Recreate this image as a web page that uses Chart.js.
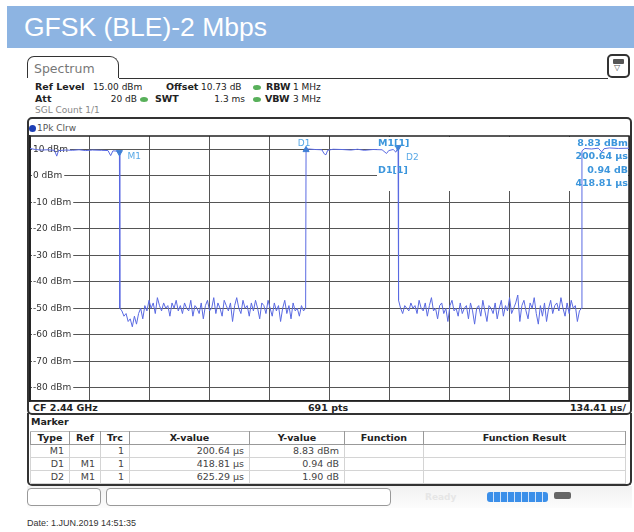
<!DOCTYPE html>
<html>
<head>
<meta charset="utf-8">
<script src="https://cdn.jsdelivr.net/npm/chart.js@4/dist/chart.umd.min.js"></script>
<style>
  body { margin: 0; width: 634px; height: 532px; overflow: hidden; position: relative; background: #fff;
         font-family: "DejaVu Sans", sans-serif; font-size: 9px; color: #222; }
  .a { position: absolute; white-space: nowrap; line-height: 12px; }
  .b { font-weight: bold; font-size: 9.5px; }
  .dot { position: absolute; width: 8px; height: 5px; border-radius: 50%; background: #58b05a; }
  #title { position: absolute; left: 7px; top: 6px; width: 627px; height: 42px; background: #8db4e2;
           color: #fff; font: 26.5px "Liberation Sans", Arial, sans-serif; line-height: 42px; padding-left: 17px; box-sizing: border-box; }
  #tab { position: absolute; left: 27px; top: 56px; width: 92px; height: 22px; border: 1.5px solid #333; border-bottom: none;
         border-radius: 7px 9px 0 0; color: #777; font-size: 12.5px; line-height: 24px; padding-left: 6px; box-sizing: border-box; }
  #tabline { position: absolute; left: 119px; top: 78px; width: 489px; border-top: 1.5px solid #333; }
  #icon { position: absolute; left: 607px; top: 54px; width: 23px; height: 24px; border: 2px solid #333; border-radius: 5px; box-sizing: border-box; }
  #panel { position: absolute; left: 27px; top: 117px; width: 605px; height: 298px; border: 2px solid #333; border-radius: 5px; box-sizing: border-box; }
  #mpanel { position: absolute; left: 27px; top: 413px; width: 605px; height: 73px; border: 2px solid #333; border-top: none;
            border-radius: 0 0 5px 5px; box-sizing: border-box; }
  table { position: absolute; left: 30px; top: 431px; border-collapse: collapse; font-size: 9.5px; table-layout: fixed; }
  td, th { height: 12px; padding: 0 5px 0 0; line-height: 12px; border: 1px solid #d4d4d4; text-align: right; color: #444; font-weight: normal; }
  th { font-weight: bold; text-align: center; border-color: #999; border-top-color: #bbb; color: #222; padding: 0; }
  #bar { position: absolute; left: 487px; top: 492px; width: 61px; height: 10px; border-radius: 3px;
         background: repeating-linear-gradient(to right, #3b8fe9 0 6px, #cfe3fb 6px 7px); }
  #c { position: absolute; left: 0; top: 0; }
</style>
</head>
<body>
<div id="title">GFSK (BLE)-2 Mbps</div>
<div id="tab">Spectrum</div>
<div id="tabline"></div>
<div id="icon"><div style="position:absolute;left:4px;top:3px;width:11px;height:5px;background:#555;border-radius:1px"></div>
  <div class="a" style="left:5px;top:6px;font-size:8px;color:#555">▽</div></div>

<div class="a b" style="left:35px;top:81px">Ref Level</div>
<div class="a" style="left:93px;top:81px">15.00 dBm</div>
<div class="a b" style="left:166px;top:81px">Offset</div>
<div class="a" style="left:201px;top:81px">10.73 dB</div>
<div class="dot" style="left:253px;top:85px"></div>
<div class="a b" style="left:266px;top:81px">RBW</div>
<div class="a" style="left:293px;top:81px">1 MHz</div>

<div class="a b" style="left:35px;top:93px">Att</div>
<div class="a" style="left:95px;top:93px;width:42px;text-align:right">20 dB</div>
<div class="dot" style="left:140px;top:97px"></div>
<div class="a b" style="left:155px;top:93px">SWT</div>
<div class="a" style="left:200px;top:93px;width:45px;text-align:right">1.3 ms</div>
<div class="dot" style="left:253px;top:97px"></div>
<div class="a b" style="left:265px;top:93px">VBW</div>
<div class="a" style="left:293px;top:93px">3 MHz</div>

<div class="a" style="left:35px;top:104px;color:#888">SGL Count 1/1</div>

<div id="panel"></div>
<div style="position:absolute;left:29px;top:125px;width:7px;height:7px;border-radius:50%;background:#1d3fb5"></div>
<div class="a" style="left:37px;top:122px;color:#555">1Pk Clrw</div>
<div class="a b" style="left:33px;top:402px">CF 2.44 GHz</div>
<div class="a b" style="left:308px;top:402px">691 pts</div>
<div class="a b" style="left:540px;top:402px;width:86px;text-align:right">134.41 µs/</div>

<div id="mpanel"></div>
<div class="a b" style="left:31px;top:416px">Marker</div>
<table id="mt">
  <colgroup><col style="width:39px"><col style="width:31px"><col style="width:29px"><col style="width:120px">
  <col style="width:95px"><col style="width:79px"><col style="width:202px"></colgroup>
  <thead><tr><th>Type</th><th>Ref</th><th>Trc</th><th>X-value</th><th>Y-value</th><th>Function</th><th>Function Result</th></tr></thead>
  <tbody></tbody>
</table>

<div style="position:absolute;left:27px;top:486px;width:605px;height:22px;background:linear-gradient(#f1f1f1,#fcfcfc)"></div>
<div style="position:absolute;left:27px;top:488px;width:74px;height:18px;border:1px solid #999;border-radius:4px;background:#fff;box-sizing:border-box"></div>
<div style="position:absolute;left:106px;top:488px;width:285px;height:18px;border:1px solid #999;border-radius:4px;background:#fff;box-sizing:border-box"></div>
<div class="a" style="left:425px;top:491px;color:#e6e6e6;font-weight:bold">Ready</div>
<div id="bar"></div>
<div style="position:absolute;left:554px;top:492px;width:17px;height:7px;background:#666;border-radius:2px"></div>
<div class="a" style="left:27px;top:518px;font:9px 'Liberation Sans',Arial,sans-serif;color:#333">Date: 1.JUN.2019 14:51:35</div>

<canvas id="c" width="634" height="532"></canvas>

<script>
// sweep: 10 divisions of 134.41 µs
const xGrid = [0, 134.41, 268.82, 403.23, 537.64, 672.05, 806.46, 940.87, 1075.28, 1209.69, 1344.1];
const yTicks = [10, 0, -10, -20, -30, -40, -50, -60, -70, -80];

// trace: [µs, dBm]
const plateau1 = [[0, 10.3], [12, 9.9], [25, 9.7], [40, 9.8], [55, 9.6], [60, 7.4], [64, 9.5], [80, 9.7],
  [95, 9.6], [110, 9.8], [125, 9.5], [140, 9.7], [160, 9.6], [175, 9.5], [181, 7.6], [186, 9.4], [195, 9.3], [200.64, 8.83]];
const noise1 = [-50, -51, -53, -52, -55, -54, -57, -53, -56, -52, -50, -54, -49, -51, -47, -50, -48, -52, -46, -49,
  -51, -48, -50, -49, -53, -48, -50, -47, -51, -49, -52, -48, -50, -51, -47, -53, -49, -50, -52, -48,
  -54, -49, -47, -51, -50, -46, -52, -48, -50, -53, -47, -49, -51, -48, -55, -49, -46, -50, -52, -47,
  -50, -49, -53, -48, -51, -47, -50, -54, -48, -49, -52, -47, -50, -53, -48, -51, -49, -55, -50, -47,
  -52, -49, -54, -48, -51, -50, -53, -49, -51, -50];
const plateau2 = [[619.45, 9.77], [625, 10.1], [640, 9.9], [655, 9.8], [660, 8.3], [664, 7.9], [668, 9.6], [680, 10.0],
  [700, 9.9], [720, 9.7], [735, 10.0], [750, 9.6], [770, 9.9], [790, 9.8], [800, 8.4], [805, 9.5], [815, 9.9], [821, 8.9], [825.93, 10.73]];
const noise2 = [-47, -50, -52, -49, -50, -51, -48, -50, -49, -52, -47, -50, -51, -48, -53, -49, -46, -51, -50, -54,
  -49, -48, -52, -50, -55, -49, -47, -51, -50, -53, -48, -52, -50, -49, -54, -48, -51, -56, -50, -49,
  -53, -47, -51, -55, -49, -50, -52, -48, -54, -50, -47, -53, -49, -51, -46, -52, -50, -48, -45, -55,
  -49, -47, -51, -54, -48, -50, -46, -52, -56, -49, -53, -48, -55, -50, -47, -52, -49, -48, -51, -46,
  -50, -53, -48, -52, -47, -50, -49, -55, -51, -50];
const plateau3 = [[1238.5, 9.4], [1245, 10.3], [1260, 10.1], [1275, 10.4], [1283, 9.0], [1288, 10.2], [1300, 10.5],
  [1320, 10.3], [1344.1, 10.4]];

// markers
const markerNames = ['M1', 'D1', 'D2'];
const markerRefs = ['', 'M1', 'M1'];
const markerTimes = [200.64, 619.45, 825.93];
const markerLevels = [8.83, 9.77, 10.73];
const markerXText = ['200.64 µs', '418.81 µs', '625.29 µs'];
const markerYText = ['8.83 dBm', '0.94 dB', '1.90 dB'];

const traceColor = '#5a6ae2';
const markColor = '#3c96dc';

// place the read noise levels on evenly spaced sweep points of a segment
function spread(t0, t1, levels) {
  const step = (t1 - t0) / (levels.length - 1);
  return levels.map((v, i) => ({ x: t0 + i * step, y: v }));
}
const pts = arr => arr.map(p => ({ x: p[0], y: p[1] }));

const trace = [
  ...pts(plateau1), ...spread(201.5, 618.5, noise1),
  ...pts(plateau2), ...spread(827, 1237.5, noise2),
  ...pts(plateau3)
];

// marker table
const tb = document.querySelector('#mt tbody');
markerNames.forEach((n, i) => {
  const tr = document.createElement('tr');
  [n, markerRefs[i], '1', markerXText[i], markerYText[i], '', ''].forEach(t => {
    const td = document.createElement('td');
    td.textContent = t;
    tr.appendChild(td);
  });
  tb.appendChild(tr);
});

const framePlugin = {
  id: 'frame',
  beforeDatasetsDraw(chart) {
    const { ctx, chartArea: a } = chart;
    ctx.save();
    // marker readout area hides the grid
    ctx.fillStyle = '#fff';
    ctx.fillRect(377, a.top + 1, a.right - 377 - 1, 54);
    ctx.strokeStyle = '#222';
    ctx.lineWidth = 1.5;
    ctx.strokeRect(a.left, a.top, a.right - a.left, a.bottom - a.top);
    ctx.restore();
  },
  afterDatasetsDraw(chart) {
    const { ctx, scales: { x, y } } = chart;
    ctx.save();
    ctx.textBaseline = 'middle';
    ctx.fillStyle = '#58a8e6';
    ctx.font = '9px "DejaVu Sans"';
    const px = i => x.getPixelForValue(markerTimes[i]);
    const py = i => y.getPixelForValue(markerLevels[i]);
    ctx.fillText('M1', px(0) + 8, py(0) + 4);
    ctx.textAlign = 'center';
    ctx.fillText('D1', px(1) - 2, py(1) - 6);
    ctx.textAlign = 'left';
    ctx.fillText('D2', px(2) + 8, py(2) + 10);

    ctx.fillStyle = markColor;
    ctx.font = 'bold 9.5px "DejaVu Sans"';
    ctx.fillText('M1[1]', 378, 144);
    ctx.fillText('D1[1]', 378, 171);
    ctx.textAlign = 'right';
    ctx.fillText(markerYText[0], 628, 144);
    ctx.fillText(markerXText[0], 628, 157);
    ctx.fillText(markerYText[1], 628, 171);
    ctx.fillText(markerXText[1], 628, 184);
    ctx.restore();
  }
};

new Chart(document.getElementById('c'), {
  type: 'line',
  data: {
    datasets: [
      {
        data: trace, borderColor: traceColor, borderWidth: 1, pointRadius: 0, tension: 0, order: 2
      },
      {
        data: markerTimes.map((t, i) => ({ x: t, y: markerLevels[i] })),
        showLine: false, pointStyle: 'triangle', rotation: [180, 0, 180], pointRadius: 3.5,
        backgroundColor: '#3f7fd6', borderColor: '#3f7fd6', order: 1
      }
    ]
  },
  options: {
    responsive: false,
    animation: false,
    devicePixelRatio: 1,
    layout: { padding: { left: 30, top: 136, right: 5, bottom: 131 } },
    plugins: { legend: { display: false }, tooltip: { enabled: false } },
    scales: {
      x: {
        type: 'linear', min: 0, max: 1344.1,
        afterBuildTicks: s => { s.ticks = xGrid.map(v => ({ value: v })); },
        afterFit: s => { s.height = 0; },
        ticks: { display: false },
        grid: { color: '#555', lineWidth: 1, drawTicks: false },
        border: { color: '#222', width: 1.5 }
      },
      y: {
        min: -85, max: 15,
        afterBuildTicks: s => { s.ticks = yTicks.map(v => ({ value: v })); },
        afterFit: s => { s.width = 0; },
        ticks: {
          mirror: true, padding: 3, color: '#333',
          font: { family: 'DejaVu Sans', size: 9 },
          callback: v => v + ' dBm',
          showLabelBackdrop: true, backdropColor: '#fff',
          backdropPadding: { top: 0, bottom: 0, left: 1, right: 2 }
        },
        grid: { color: '#555', lineWidth: 1, drawTicks: false },
        border: { color: '#222', width: 1.5 }
      }
    }
  },
  plugins: [framePlugin]
});
</script>
</body>
</html>
